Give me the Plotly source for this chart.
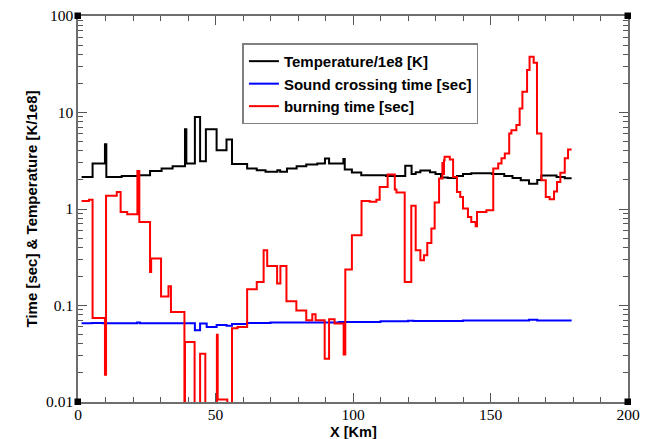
import plotly.graph_objects as go

# ---- data (step functions: x = start of each step, last x = end) ----
temp_x = [1.3, 5.3, 9.8, 10.3, 15.9, 22.0, 26.2, 30.4, 34.4, 38.9, 39.4, 42.5, 44.4, 46.5, 50.4,
          54.0, 56.0, 61.5, 65.0, 68.2, 72.5, 73.5, 76.0, 79.5, 83.0, 87.0, 89.8, 91.3, 96.5, 97.0,
          99.6, 103.0, 112.0, 119.0, 121.3, 122.8, 124.5, 128.0, 130.0, 132.0, 134.5, 137.8, 140.0,
          143.0, 150.5, 155.0, 158.0, 161.0, 164.0, 167.0, 168.5, 174.0, 177.0, 179.5]
temp_v = [2.15, 2.97, 4.7, 2.15, 2.2, 2.24, 2.48, 2.63, 2.78, 6.69, 2.97, 9.0, 3.13, 6.69, 4.07,
          5.26, 2.92, 2.63, 2.52, 2.43, 2.52, 2.43, 2.63, 2.78, 2.9, 2.97, 3.34, 2.97, 3.3, 2.57,
          2.39, 2.24, 2.2, 2.8, 2.3, 2.4, 2.5, 2.4, 2.3, 2.12, 2.1, 2.2, 2.3,
          2.35, 2.3, 2.2, 2.1, 1.98, 1.83, 2.0, 2.23, 2.15, 2.08, 2.08]

snd_x = [1.3, 5.0, 9.0, 21.5, 22.5, 42.5, 44.4, 46.8, 50.4, 54.0, 56.0, 61.5, 70.0, 95.0,
         110.0, 120.0, 122.0, 140.0, 164.0, 167.0, 179.5]
snd_v = [0.0655, 0.066, 0.0655, 0.0665, 0.0655, 0.0553, 0.065, 0.0598, 0.0628, 0.0615, 0.0645,
         0.066, 0.0668, 0.0675, 0.0685, 0.0695, 0.069, 0.07, 0.0712, 0.07, 0.07]

burn_x = [1.3, 4.0, 5.3, 9.8, 10.2, 14.1, 15.5, 17.9, 21.6, 22.3,
          26.2, 26.6, 30.2, 32.9, 33.8, 38.7, 38.9, 42.4, 44.4, 46.3,
          50.5, 50.8, 54.3, 56.0, 58.0, 61.5, 65.0, 67.5, 68.8, 72.4,
          73.6, 75.8, 79.4, 83.0, 85.2, 86.4, 89.7, 91.3, 93.3, 96.6,
          97.2, 99.6, 103.1, 106.1, 108.5, 109.7, 112.6, 115.2, 115.8, 118.8,
          121.2, 122.8, 124.5, 125.8, 127.0, 128.5, 129.7, 131.3, 132.5, 132.8,
          133.1, 133.3, 135.2, 136.4, 137.8, 139.0, 140.0, 141.8, 143.0, 144.6,
          145.1, 148.5, 151.0, 152.8, 154.0, 155.2, 156.8, 157.6, 159.4, 160.6,
          161.6, 163.3, 164.2, 165.7, 166.9, 168.5, 170.1, 171.5, 173.1, 174.2,
          175.4, 177.0, 178.2, 179.5]
burn_v = [1.21, 1.25, 0.0741, 0.0192, 1.37, 1.50, 0.933, 0.883, 2.48, 0.735,
          0.223, 0.307, 0.124, 0.158, 0.0857, 0.005, 0.0418, 0.005, 0.0317, 0.005,
          0.0499, 0.0106, 0.005, 0.058, 0.060, 0.147, 0.175, 0.374, 0.257, 0.169,
          0.257, 0.111, 0.089, 0.0702, 0.081, 0.0702, 0.0281, 0.0719, 0.0649, 0.031,
          0.236, 0.535, 1.21, 1.19, 1.25, 1.69, 2.28, 1.59, 1.48, 0.175,
          1.08, 0.374, 0.294, 0.332, 0.445, 0.628, 1.17, 2.07, 3.0, 2.3,
          3.2, 3.47, 3.26, 2.15, 1.5, 1.33, 1.01, 0.828, 0.735, 0.664,
          0.93, 0.973, 2.63, 2.97, 3.35, 3.77, 6.07, 6.56, 7.4, 11.0,
          16.4, 27.5, 37.8, 32.8, 6.07, 1.99, 1.33, 1.26, 1.52, 1.91,
          2.37, 3.35, 4.14, 4.14]

names = ["Temperature/1e8 [K]", "Sound crossing time [sec]", "burning time [sec]"]
colors = ["#000000", "#0000ff", "#ff0000"]

y_tickvals = [0.01, 0.1, 1, 10, 100]
y_ticktext = ["0.01", "0.1", "1", "10", "100"]
x_tickvals = [0, 50, 100, 150, 200]
x_title = "X [Km]"
y_title = "Time [sec] & Temperature [K/1e8]"

fig = go.Figure()
for xs, ys, nm, c in zip([temp_x, snd_x, burn_x], [temp_v, snd_v, burn_v], names, colors):
    fig.add_trace(go.Scatter(x=xs, y=ys, name=nm, mode="lines",
                             line=dict(color=c, width=2, shape="hv")))

serif = "Liberation Serif, Times New Roman, serif"
sans = "Liberation Sans, Arial, sans-serif"

axis_common = dict(showline=True, linecolor="#6e6e6e", linewidth=1.5, mirror="ticks",
                   ticks="inside", tickcolor="#555555", tickwidth=1, ticklen=9,
                   showgrid=False, zeroline=False, automargin=False,
                   tickfont=dict(family=serif, size=15.5, color="#000000"))

minor_y = []
for e in [0.01, 0.1, 1, 10]:
    for k in range(2, 10):
        minor_y.append(round(k * e, 6))

fig.update_xaxes(range=[0, 200], tickvals=x_tickvals, ticklabelstandoff=-2,
                 minor=dict(dtick=10, ticks="inside", ticklen=5, tickcolor="#555555", showgrid=False),
                 **axis_common)
fig.update_yaxes(type="log", range=[-2, 2], tickvals=y_tickvals, ticktext=y_ticktext,
                 minor=dict(tickvals=minor_y, ticks="inside", ticklen=5, tickcolor="#555555", showgrid=False),
                 title=dict(text=y_title, standoff=5,
                            font=dict(family=sans, size=15, weight="bold", color="#000000")),
                 **axis_common)

fig.add_annotation(text=x_title, xref="paper", yref="paper", x=0.5, y=-0.078,
                   xanchor="center", yanchor="middle", showarrow=False,
                   font=dict(family=sans, size=14.5, weight="bold", color="#000000"))

# corner markers (xmgrace style)
shapes = []
for cx, cy in [(0, 0), (1, 0), (0, 1), (1, 1)]:
    shapes.append(dict(type="rect", xref="paper", yref="paper",
                       xsizemode="pixel", ysizemode="pixel",
                       xanchor=cx, yanchor=cy, x0=-3.5, x1=3, y0=-3, y1=3.5,
                       fillcolor="#000000", line=dict(width=0)))

fig.update_layout(
    width=665, height=439,
    margin=dict(l=78, r=37, t=16, b=37),
    paper_bgcolor="white", plot_bgcolor="white",
    showlegend=True,
    shapes=shapes,
    legend=dict(x=0.299, y=0.929, xanchor="left", yanchor="top",
                bgcolor="white", bordercolor="#808080", borderwidth=1.5,
                font=dict(family=sans, size=15, weight="bold", color="#000000"),
                tracegroupgap=0, itemwidth=30),
)

fig.write_html("out.html", config={"displayModeBar": False},
               post_script="document.body.style.margin='0';document.body.style.overflow='hidden';")
